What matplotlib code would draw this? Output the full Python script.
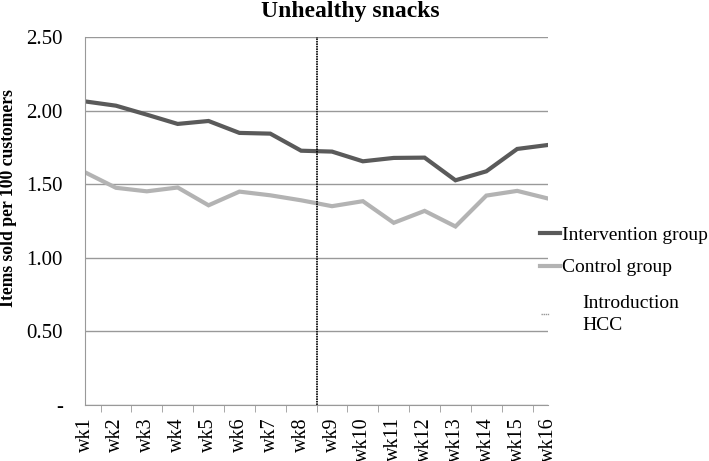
import matplotlib
matplotlib.use("Agg")
import matplotlib.pyplot as plt
from matplotlib.lines import Line2D
import numpy as np

plt.rcParams['font.family'] = ['Liberation Serif', 'DejaVu Serif']

weeks = ["wk1", "wk2", "wk3", "wk4", "wk5", "wk6", "wk7", "wk8",
         "wk9", "wk10", "wk11", "wk12", "wk13", "wk14", "wk15", "wk16"]

intervention = [2.063, 2.034, 1.973, 1.910, 1.930, 1.849, 1.844, 1.728,
                1.722, 1.656, 1.679, 1.681, 1.527, 1.588, 1.740, 1.767]

control = [1.581, 1.476, 1.452, 1.478, 1.357, 1.450, 1.425, 1.391,
           1.351, 1.385, 1.238, 1.319, 1.213, 1.423, 1.455, 1.403]

intro_week = 8.5  # HCC introduced between wk8 and wk9

yticks = [0, 0.5, 1.0, 1.5, 2.0, 2.5]
ytick_labels = ["-", "0.50", "1.00", "1.50", "2.00", "2.50"]

fig = plt.figure(figsize=(7.09, 4.61), dpi=100)
ax = fig.add_axes([0.12, 0.1215, 0.653, 0.798])

x = np.arange(1, len(weeks) + 1)
l1, = ax.plot(x, intervention, color="#5a5a5a", lw=3, label="Intervention group",
              solid_joinstyle="miter")
l2, = ax.plot(x, control, color="#b3b3b3", lw=3, label="Control group",
              solid_joinstyle="miter")
l3 = ax.axvline(intro_week, color="k", ls=(0, (1, 0.5)), lw=1.2)

ax.set_xlim(1, 16)
ax.set_ylim(0, 2.5)
ax.set_yticks(yticks)
ax.set_yticklabels(ytick_labels, fontsize=15)
ax.tick_params(axis="y", length=0, pad=16)
ax.grid(axis="y", color="#999999", lw=1)
ax.set_axisbelow(True)

ax.set_xticks(x)
ax.set_xticklabels(weeks, rotation=90, fontsize=14.5)
ax.tick_params(axis="x", which="major", length=0, pad=9)
ax.set_xticks(list(np.arange(1.5, 16, 1)) + [16], minor=True)
ax.tick_params(axis="x", which="minor", length=5, color="#999999")

for s in ["top", "right"]:
    ax.spines[s].set_visible(False)
for s in ["left", "bottom"]:
    ax.spines[s].set_color("#999999")

fig.text(0.494, 0.974, "Unhealthy snacks", fontsize=17, fontweight="bold",
         ha="center", va="center")
fig.text(0.0115, 0.571, "Items sold per 100 customers", fontsize=12.7,
         fontweight="bold", rotation=90, ha="center", va="center")

leg1 = ax.legend(handles=[l1, l2], loc="upper left", bbox_to_anchor=(0.983, 0.485),
                 frameon=False, fontsize=14, handlelength=1.0, handletextpad=0.1,
                 borderpad=0, borderaxespad=0, labelspacing=0.75)
ax.add_artist(leg1)

intro_handle = Line2D([], [], color="#999999", lw=1, ls=(0, (1, 0.5)))
leg2 = ax.legend(handles=[intro_handle], labels=["Introduction\nHCC"],
                 loc="upper left", bbox_to_anchor=(0.985, 0.3), frameon=False,
                 fontsize=14, handlelength=0.4, handletextpad=1.7,
                 borderpad=0, borderaxespad=0)
for t in leg2.get_texts():
    t.set_linespacing(1.45)

fig.savefig("out.png", dpi=100)
